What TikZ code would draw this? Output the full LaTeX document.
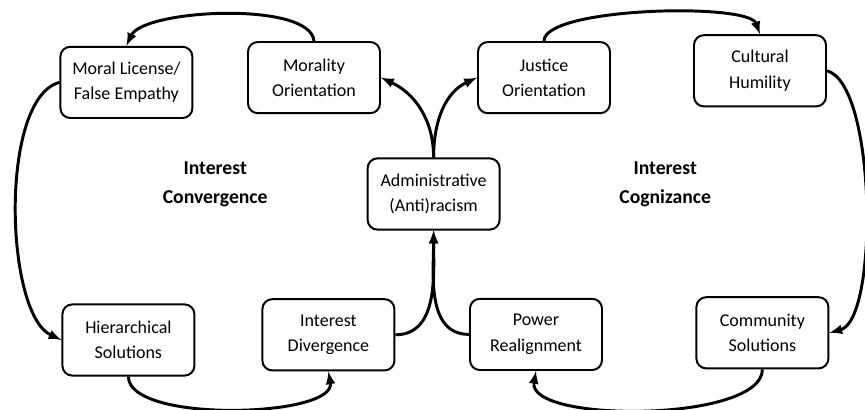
\documentclass[tikz,border=0pt]{standalone}
\usepackage{fontspec}
\setmainfont{Carlito}
\usepackage{tikz}
\usetikzlibrary{arrows}

\begin{document}
\begin{tikzpicture}
    \tikzstyle{box} = [draw, rounded corners=7pt, line width=1.4pt, align=center,
                       minimum width=3.3cm, minimum height=1.78cm, font=\fontsize{12.8}{18}\selectfont]
    \tikzstyle{link} = [line width=2.1pt, -latex]
    \tikzstyle{theme} = [align=center, font=\fontsize{14}{21}\selectfont\bfseries]
    \useasboundingbox (0, 0) rectangle (21.625, 10.25);

    \node [box] (moral) at (3.16, 8.19) {Moral License/\\False Empathy};
    \node [box] (morality) at (7.85, 8.31) {Morality\\Orientation};
    \node [box] (justice) at (13.6, 8.31) {Justice\\Orientation};
    \node [box] (humility) at (19.0, 8.48) {Cultural\\Humility};
    \node [box] (admin) at (10.84, 5.4) {Administrative\\(Anti)racism};
    \node [box] (hier) at (3.21, 1.75) {Hierarchical\\Solutions};
    \node [box] (diverg) at (8.21, 1.88) {Interest\\Divergence};
    \node [box] (power) at (13.4, 1.89) {Power\\Realignment};
    \node [box] (community) at (19.06, 1.93) {Community\\Solutions};

    \node [theme] (convergence) at (5.38, 5.64) {Interest\\Convergence};
    \node [theme] (cognizance) at (16.63, 5.64) {Interest\\Cognizance};

    % left loop
    \draw [link] (morality.north) to [out=95, in=65, looseness=0.55] (moral.north);
    \draw [link] (moral.west) to [out=195, in=155, looseness=0.62] (hier.west);
    \draw [link] (hier.south) to [out=-90, in=-80, looseness=0.6] (diverg.south);
    \draw [link] (diverg.east) to [out=0, in=-90] (admin.south);
    \draw [link] (admin.north) to [out=90, in=-25] (morality.east);

    % right loop
    \draw [link] (admin.north) to [out=90, in=205] (justice.west);
    \draw [link] (justice.north) to [out=90, in=110, looseness=0.4] (humility.north);
    \draw [link] (humility.east) to [out=-15, in=15, looseness=0.5] (community.east);
    \draw [link] (community.south) to [out=-90, in=-100, looseness=0.6] (power.south);
    \draw [link] (power.west) to [out=180, in=-90] (admin.south);
\end{tikzpicture}
\end{document}
